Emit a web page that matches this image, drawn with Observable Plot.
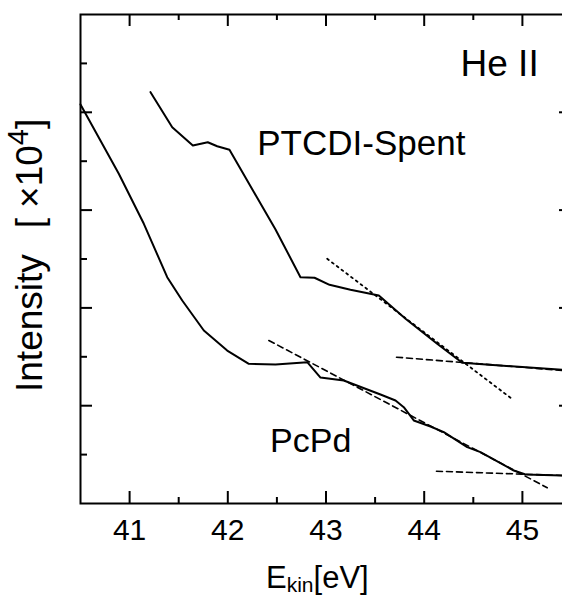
<!DOCTYPE html>
<html>
<head>
<meta charset="utf-8">
<script src="https://cdn.jsdelivr.net/npm/d3@7"></script>
<script src="https://cdn.jsdelivr.net/npm/@observablehq/plot@0.6"></script>
<style>
  html, body { margin: 0; padding: 0; background: white; overflow: hidden; }
  #wrap { width: 562px; height: 595px; overflow: hidden; }
</style>
</head>
<body>
<div id="wrap"></div>
<script>
// --- data ---
const ptcdiX = [41.213, 41.434, 41.644, 41.796, 41.892, 42.017, 42.486, 42.740, 42.883, 43.036, 43.249, 43.538, 43.810, 44.132, 44.387, 45.405];
const ptcdiY = [4.206, 3.848, 3.661, 3.694, 3.653, 3.617, 2.802, 2.314, 2.308, 2.236, 2.185, 2.127, 1.889, 1.633, 1.439, 1.367];

const pcpdX = [40.500, 40.890, 41.145, 41.383, 41.536, 41.756, 41.994, 42.214, 42.486, 42.809, 42.944, 43.181, 43.555, 43.708, 43.792, 43.894, 44.064, 44.200, 44.438, 44.573, 44.912, 45.032, 45.405];
const pcpdY = [4.080, 3.371, 2.860, 2.314, 2.076, 1.769, 1.564, 1.428, 1.421, 1.445, 1.288, 1.258, 1.115, 1.053, 0.985, 0.849, 0.787, 0.729, 0.576, 0.525, 0.337, 0.297, 0.286];

// fitted guide lines
const ptcdiSlopeX = [43.012, 44.879];
const ptcdiSlopeY = [2.502, 1.081];
const ptcdiBaseX = [43.718, 45.408];
const ptcdiBaseY = [1.496, 1.360];
const pcpdSlopeX = [42.418, 45.253];
const pcpdSlopeY = [1.667, 0.161];
const pcpdBaseX = [44.125, 45.408];
const pcpdBaseY = [0.330, 0.286];

const xMajor = [41, 42, 43, 44, 45];
const xMinor = [41.5, 42.5, 43.5, 44.5];
const yMajor = [1, 2, 3, 4];
const yMinor = [0.5, 1.5, 2.5, 3.5, 4.5];

const labels = [
  {x: 44.37, y: 4.49, text: "He II", size: 37},
  {x: 42.30, y: 3.673, text: "PTCDI-Spent", size: 35},
  {x: 42.43, y: 0.636, text: "PcPd", size: 34}
];

// --- build ---
const W = 580, H = 595, mL = 80, mR = 9, mT = 14, mB = 92;
const fw = W - mL - mR, fh = H - mT - mB;
const toPts = (xs, ys) => xs.map((x, i) => ({x, y: ys[i]}));

const svg = Plot.plot({
  width: W, height: H,
  marginLeft: mL, marginRight: mR, marginTop: mT, marginBottom: mB,
  style: {fontFamily: "'Liberation Sans', Arial, Helvetica, sans-serif", maxWidth: "none", background: "white", color: "black"},
  x: {domain: [40.5, 45.5]},
  y: {domain: [0, 5], axis: null},
  marks: [
    // inward ticks
    Plot.ruleX(xMajor, {insetTop: fh - 12, stroke: "black", strokeWidth: 2}),
    Plot.ruleX(xMajor, {insetBottom: fh - 12, stroke: "black", strokeWidth: 2}),
    Plot.ruleX(xMinor, {insetTop: fh - 6, stroke: "black", strokeWidth: 2}),
    Plot.ruleX(xMinor, {insetBottom: fh - 6, stroke: "black", strokeWidth: 2}),
    Plot.ruleY(yMajor, {insetRight: fw - 12, stroke: "black", strokeWidth: 2}),
    Plot.ruleY(yMajor, {insetLeft: fw - 12, stroke: "black", strokeWidth: 2}),
    Plot.ruleY(yMinor, {insetRight: fw - 7, stroke: "black", strokeWidth: 2}),
    Plot.ruleY(yMinor, {insetLeft: fw - 7, stroke: "black", strokeWidth: 2}),
    Plot.frame({stroke: "black", strokeWidth: 2}),
    // guide lines
    Plot.line(toPts(ptcdiSlopeX, ptcdiSlopeY), {x: "x", y: "y", stroke: "black", strokeWidth: 1.8, strokeDasharray: "2,4"}),
    Plot.line(toPts(ptcdiBaseX, ptcdiBaseY), {x: "x", y: "y", stroke: "black", strokeWidth: 1.6, strokeDasharray: "6,4"}),
    Plot.line(toPts(pcpdSlopeX, pcpdSlopeY), {x: "x", y: "y", stroke: "black", strokeWidth: 1.6, strokeDasharray: "6,4"}),
    Plot.line(toPts(pcpdBaseX, pcpdBaseY), {x: "x", y: "y", stroke: "black", strokeWidth: 1.6, strokeDasharray: "6,4"}),
    // curves
    Plot.line(toPts(ptcdiX, ptcdiY), {x: "x", y: "y", stroke: "black", strokeWidth: 2}),
    Plot.line(toPts(pcpdX, pcpdY), {x: "x", y: "y", stroke: "black", strokeWidth: 2}),
    // labels
    Plot.text(labels, {x: "x", y: "y", text: "text", fontSize: d => d.size, textAnchor: "start", lineAnchor: "middle", fill: "black"}),
    // x axis tick labels
    Plot.axisX(xMajor, {anchor: "bottom", tickSize: 0, tickPadding: 15, fontSize: 30, label: null, fill: "black"})
  ]
});

const s = d3.select(svg);
s.selectAll("text").attr("fill", "black");
// x-axis title with subscript
const xt = s.append("text")
  .attr("x", 266).attr("y", 588)
  .attr("text-anchor", "start")
  .attr("font-size", 31).attr("fill", "black");
xt.append("tspan").text("E");
xt.append("tspan").attr("font-size", 21).attr("dy", 4).text("kin");
xt.append("tspan").attr("dy", -4).text("[eV]");

// y-axis title with superscript
const yt = s.append("text")
  .attr("transform", "translate(42,392) rotate(-90)")
  .attr("text-anchor", "start")
  .attr("font-size", 37).attr("fill", "black");
yt.append("tspan").text("Intensity");
yt.append("tspan").attr("dx", 26).text("[");
yt.append("tspan").attr("dx", 10).text("×10");
yt.append("tspan").attr("font-size", 29).attr("dy", -14).text("4");
yt.append("tspan").attr("dy", 14).text("]");

document.getElementById("wrap").appendChild(svg);
</script>
</body>
</html>
